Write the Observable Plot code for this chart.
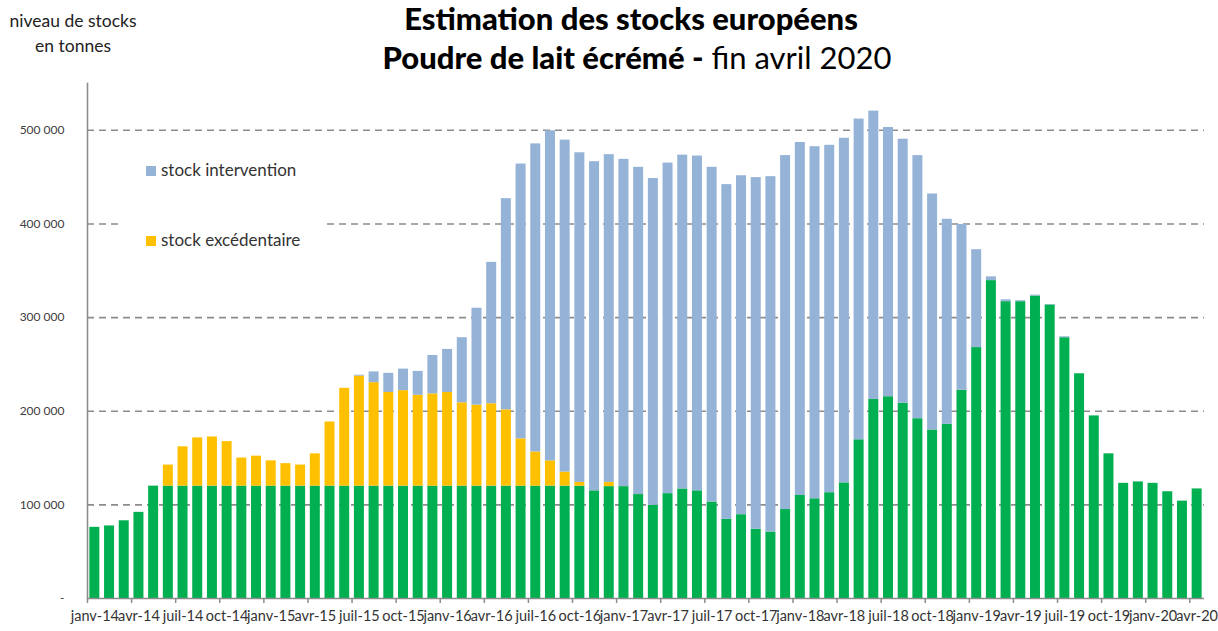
<!DOCTYPE html>
<html><head><meta charset="utf-8">
<script src="https://cdn.jsdelivr.net/npm/d3@7"></script>
<script src="https://cdn.jsdelivr.net/npm/@observablehq/plot@0.6"></script>
<style>
body{margin:0;background:#fff;font-family:Lato,"Open Sans",sans-serif;}
#wrap{position:relative;width:1218px;height:631px;overflow:hidden;background:#fff;}
#unit{position:absolute;left:0;top:8px;width:146px;text-align:center;font-size:17.5px;line-height:25px;color:#222;}
#t1{position:absolute;left:0;width:1262px;top:0px;text-align:center;font-size:31px;line-height:36px;font-weight:900;color:#000;}
#t2{position:absolute;left:0;width:1274px;top:39px;text-align:center;font-size:31px;line-height:36px;color:#000;}
#t2 b{font-weight:900;}
#chart{position:absolute;left:0;top:70px;}
#legend{position:absolute;left:120px;top:140px;width:205px;height:135px;background:#fff;}
.li{position:absolute;left:26px;font-size:17px;color:#333;line-height:20px;white-space:nowrap;}
.sw{display:inline-block;width:10px;height:10px;margin-right:5px;vertical-align:0px;}
</style></head><body>
<div id="wrap">
  <div id="unit">niveau de stocks<br>en tonnes</div>
  <div id="t1">Estimation des stocks européens</div>
  <div id="t2"><b>Poudre de lait écrémé -</b> fin avril 2020</div>
  <div id="chart"></div>
  <div id="legend"></div>
</div>
<script>
// --- Données (tonnes) ---
const moisAbbr = ["janv","févr","mars","avr","mai","juin","juil","août","sept","oct","nov","déc"];
const annees = ["14","15","16","17","18","19","20"];
const months = [];
for (const a of annees) for (const m of moisAbbr) if (months.length < 76) months.push(`${m}-${a}`);

const seriesNames = ["autres stocks", "stock excédentaire", "stock intervention"];
const seriesColors = ["#00B050", "#FFC000", "#95B3D7"];

const stockAutres = [
  76000, 77500, 83000, 92000, 120000, 120000, 120000, 120000, 120000, 120000, 120000, 120000,
  120000, 120000, 120000, 120000, 120000, 120000, 120000, 120000, 120000, 120000, 120000, 120000,
  120000, 120000, 120000, 120000, 120000, 120000, 120000, 120000, 120000, 120000, 115000, 119500,
  119500, 111000, 99500, 112000, 117000, 115000, 103000, 84500, 89500, 74000, 71000, 95000,
  110000, 106500, 113000, 123500, 169500, 212500, 215500, 208500, 192000, 180000, 186000, 222500,
  268000, 339500, 317000, 317000, 323000, 313500, 278500, 240000, 195000, 154500, 123000, 124500,
  123000, 114000, 104000, 117000
];
const stockExcedentaire = [
  0, 0, 0, 0, 0, 22500, 42000, 51500, 52500, 47500, 30000, 32000,
  27000, 24000, 22500, 34500, 68500, 104500, 117500, 110500, 100000, 102000, 97000, 98500,
  100000, 89000, 86500, 88000, 81500, 50500, 36500, 27000, 15000, 4000, 0, 4500,
  0, 0, 0, 0, 0, 0, 0, 0, 0, 0, 0, 0,
  0, 0, 0, 0, 0, 0, 0, 0, 0, 0, 0, 0,
  0, 0, 0, 0, 0, 0, 0, 0, 0, 0, 0, 0,
  0, 0, 0, 0
];
const stockIntervention = [
  0, 0, 0, 0, 0, 0, 0, 0, 0, 0, 0, 0,
  0, 0, 0, 0, 0, 0, 1000, 11500, 20500, 23000, 25500, 41000,
  46000, 69500, 103500, 151000, 225500, 293500, 329000, 352500, 354500, 352000, 351500, 350000,
  349500, 349500, 349000, 353000, 356500, 357500, 357500, 357500, 362000, 375500, 379500, 378000,
  377000, 376000, 371000, 368000, 342500, 308000, 287500, 282000, 281000, 252000, 219000, 177000,
  104500, 4000, 2000, 1000, 1000, 500, 1000, 0, 0, 0, 0, 0,
  0, 0, 0, 0
];
const yTicks = [0, 100000, 200000, 300000, 400000, 500000];
const xTickLabels = months.filter((d, i) => i % 3 === 0);

// table long
const seriesValues = [stockAutres, stockExcedentaire, stockIntervention];
const data = [];
seriesNames.forEach((s, k) => months.forEach((m, i) => data.push({mois: m, serie: s, valeur: seriesValues[k][i]})));

const fmtY = d => d === 0 ? "-" : d3.format(",")(d).replace(/,/g, "\u00A0");
const step = (1218 - 14 - 87) / months.length;

const chart = Plot.plot({
  width: 1218,
  height: 558,
  marginLeft: 87,
  marginRight: 14,
  marginTop: 13,
  marginBottom: 30,
  style: {fontFamily: "Lato, 'Open Sans', sans-serif", background: "transparent"},
  x: {type: "band", domain: months, paddingInner: 0.32, paddingOuter: 0.16, label: null},
  y: {domain: [0, 550000], label: null},
  color: {domain: seriesNames, range: seriesColors},
  marks: [
    Plot.ruleY(yTicks.filter(d => d > 0), {stroke: "#8c8c8c", strokeWidth: 1.6, strokeDasharray: "7,5"}),
    Plot.barY(data, {x: "mois", y: "valeur", fill: "serie", order: seriesNames}),
    Plot.ruleY([0], {stroke: "#8c8c8c", strokeWidth: 1.6}),
    Plot.frame({anchor: "left", stroke: "#8c8c8c", strokeWidth: 1.6}),
    Plot.axisY({ticks: yTicks, tickSize: 0, tickPadding: 23, tickFormat: fmtY, fontSize: 12, fill: "#404040", label: null}),
    Plot.axisX({ticks: xTickLabels, tickSize: 0, tickPadding: 12, fontSize: 14.5, fill: "#333", label: null}),
    Plot.axisX({ticks: xTickLabels, tickSize: 5, tickFormat: () => "", dx: -step / 2, stroke: "#8c8c8c", strokeWidth: 1.5, label: null})
  ]
});
document.getElementById("chart").appendChild(chart);

// légende
const legendItems = [
  {name: "stock intervention", color: seriesColors[2], top: 20},
  {name: "stock excédentaire", color: seriesColors[1], top: 90}
];
const lg = document.getElementById("legend");
legendItems.forEach(it => {
  const el = document.createElement("div");
  el.className = "li";
  el.style.top = it.top + "px";
  el.innerHTML = `<span class="sw" style="background:${it.color}"></span>${it.name}`;
  lg.appendChild(el);
});
</script>
</body></html>
